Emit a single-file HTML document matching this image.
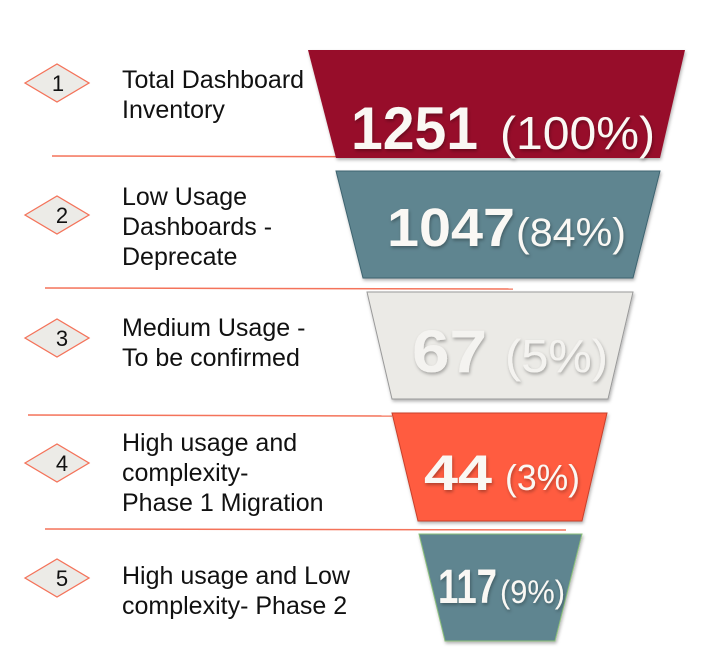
<!DOCTYPE html>
<html><head><style>
html,body{margin:0;padding:0;background:#fff;}
svg{display:block;}
.l{font-family:"Liberation Sans",Arial,sans-serif;font-size:25px;fill:#111;}
.n{font-family:"Liberation Sans",Arial,sans-serif;font-weight:bold;fill:#faf8f4;}
.p{font-family:"Liberation Sans",Arial,sans-serif;fill:#faf8f4;}
.d{font-family:"Liberation Sans",Arial,sans-serif;font-size:22px;fill:#111;}
</style></head><body>
<svg width="709" height="665" viewBox="0 0 709 665" xmlns="http://www.w3.org/2000/svg">
<defs><filter id="s" x="-10%" y="-10%" width="120%" height="130%"><feDropShadow dx="1" dy="2" stdDeviation="1.5" flood-color="#000" flood-opacity="0.3"/></filter></defs>
<g stroke="#f4735a" stroke-width="1.5">
<line x1="52" y1="156" x2="490" y2="157"/>
<line x1="45" y1="288" x2="513" y2="289"/>
<line x1="28" y1="415" x2="392" y2="416"/>
<line x1="45" y1="529" x2="566" y2="530"/>
</g>
<g filter="url(#s)">
<polygon points="308,50 685,50 660,158 336,158" fill="#970e2a"/>
<polygon points="336,171 660,171 633,278 363,278" fill="#5f8590" stroke="#3d6470"/>
<polygon points="367,292 633,292 608,399 392,399" fill="#ebeae6" stroke="#999"/>
<polygon points="392,413 607,413 582,521 418,521" fill="#ff5b40" stroke="#c8402c"/>
<polygon points="419,534 582,534 555,641 445,641" fill="#5f8590" stroke="#8bc07a"/>
</g>
<g filter="url(#s)">
<text x="351" y="149" class="n" font-size="60" textLength="127" lengthAdjust="spacingAndGlyphs">1251</text>
<text x="500" y="149" class="p" font-size="46" textLength="155" lengthAdjust="spacingAndGlyphs">(100%)</text>
<text x="387" y="246" class="n" font-size="54" textLength="128" lengthAdjust="spacingAndGlyphs">1047</text>
<text x="516" y="246" class="p" font-size="40" textLength="110" lengthAdjust="spacingAndGlyphs">(84%)</text>
<text x="412" y="372" class="n" font-size="60" style="fill:#f4f3f0" textLength="75" lengthAdjust="spacingAndGlyphs">67</text>
<text x="505" y="372" class="p" font-size="46" style="fill:#f4f3f0" textLength="103" lengthAdjust="spacingAndGlyphs">(5%)</text>
<text x="424" y="490" class="n" font-size="50" textLength="68" lengthAdjust="spacingAndGlyphs">44</text>
<text x="505" y="490" class="p" font-size="36" textLength="75" lengthAdjust="spacingAndGlyphs">(3%)</text>
<text x="438" y="603" class="n" font-size="48" textLength="59" lengthAdjust="spacingAndGlyphs">117</text>
<text x="500" y="603" class="p" font-size="32" textLength="65" lengthAdjust="spacingAndGlyphs">(9%)</text>
</g>
<g fill="#ecebe7" stroke="#f4735a" stroke-width="1.3">
<polygon points="25,83 57,64 89,83 57,102"/>
<polygon points="25,215 57,196 89,215 57,234"/>
<polygon points="25,338 57,319 89,338 57,357"/>
<polygon points="25,463 57,444 89,463 57,482"/>
<polygon points="25,578 57,559 89,578 57,597"/>
</g>
<text x="58" y="91" class="d" text-anchor="middle">1</text>
<text x="62" y="223" class="d" text-anchor="middle">2</text>
<text x="62" y="346" class="d" text-anchor="middle">3</text>
<text x="62" y="471" class="d" text-anchor="middle">4</text>
<text x="62" y="586" class="d" text-anchor="middle">5</text>
<text x="122" y="88" class="l">Total Dashboard</text>
<text x="122" y="118" class="l">Inventory</text>
<text x="122" y="205" class="l">Low Usage</text>
<text x="122" y="235" class="l">Dashboards -</text>
<text x="122" y="265" class="l">Deprecate</text>
<text x="122" y="336" class="l">Medium Usage -</text>
<text x="122" y="366" class="l">To be confirmed</text>
<text x="122" y="451" class="l">High usage and</text>
<text x="122" y="481" class="l">complexity-</text>
<text x="122" y="511" class="l">Phase 1 Migration</text>
<text x="122" y="584" class="l">High usage and Low</text>
<text x="122" y="614" class="l">complexity- Phase 2</text>
</svg>
</body></html>
